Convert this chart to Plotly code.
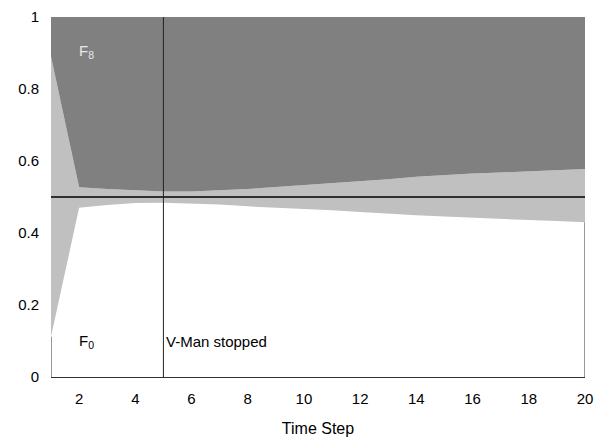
import plotly.graph_objects as go

time_steps = list(range(1, 21))
# top of the F0 (white) band
f0_upper = [0.112, 0.470, 0.478, 0.483, 0.484, 0.482, 0.479, 0.474, 0.471, 0.467,
            0.463, 0.458, 0.453, 0.449, 0.446, 0.442, 0.439, 0.436, 0.433, 0.430]
# bottom of the F8 (dark) band
f8_lower = [0.890, 0.527, 0.522, 0.518, 0.515, 0.515, 0.518, 0.522, 0.528, 0.533,
            0.538, 0.543, 0.549, 0.556, 0.561, 0.565, 0.568, 0.571, 0.574, 0.578]
top = [1.0] * len(time_steps)
stop_step = 5
threshold = 0.5

fig = go.Figure()
fig.add_trace(go.Scatter(x=time_steps, y=f0_upper, mode="lines", line=dict(width=0),
                         hoverinfo="skip", showlegend=False))
fig.add_trace(go.Scatter(x=time_steps, y=f8_lower, mode="lines", line=dict(width=0),
                         fill="tonexty", fillcolor="#c0c0c0", showlegend=False))
fig.add_trace(go.Scatter(x=time_steps, y=top, mode="lines", line=dict(width=0),
                         fill="tonexty", fillcolor="#808080", showlegend=False))

# frame edges visible only where the plot is white
fig.add_shape(type="line", x0=time_steps[0], x1=time_steps[0], y0=0, y1=f0_upper[0],
              line=dict(color="#333333", width=1), layer="below")
fig.add_shape(type="line", x0=time_steps[-1], x1=time_steps[-1], y0=0, y1=f0_upper[-1],
              line=dict(color="#333333", width=1), layer="below")

fig.add_shape(type="line", x0=1, x1=20, y0=threshold, y1=threshold,
              line=dict(color="black", width=1.5), layer="above")
fig.add_shape(type="line", x0=stop_step, x1=stop_step, y0=0, y1=1,
              line=dict(color="#222222", width=1), layer="above")

fig.add_annotation(x=2, y=0.905, text="F<sub>8</sub>", showarrow=False, xanchor="left",
                   xshift=-2, font=dict(color="#e8e8e8", size=15))
fig.add_annotation(x=2, y=0.10, text="F<sub>0</sub>", showarrow=False, xanchor="left",
                   xshift=-2, font=dict(color="black", size=15))
fig.add_annotation(x=stop_step, y=0.10, text="V-Man stopped", showarrow=False,
                   xanchor="left", xshift=1, font=dict(color="black", size=15))

fig.update_layout(
    width=608, height=440,
    margin=dict(l=51, r=23, t=17, b=63),
    plot_bgcolor="white", paper_bgcolor="white",
    font=dict(family="Liberation Sans, Arial, sans-serif", size=15, color="black"),
    xaxis=dict(range=[1, 20], tickvals=list(range(2, 21, 2)), showgrid=False,
               zeroline=False, showline=True, linecolor="#333333", linewidth=1,
               mirror=False, layer="below traces", ticks="", ticklabelstandoff=8,
               automargin=False, tickfont=dict(size=15),
               title=dict(text="Time Step", font=dict(size=16), standoff=16)),
    yaxis=dict(range=[0, 1], tickvals=[0, 0.2, 0.4, 0.6, 0.8, 1],
               ticktext=["0", "0.2", "0.4", "0.6", "0.8", "1"], showgrid=False,
               zeroline=False, showline=False, ticks="", ticklabelstandoff=11,
               automargin=False, tickfont=dict(size=15)),
)

fig.write_html("out.html", config={"displayModeBar": False},
               post_script="document.body.style.margin='0';document.body.style.overflow='hidden';")
